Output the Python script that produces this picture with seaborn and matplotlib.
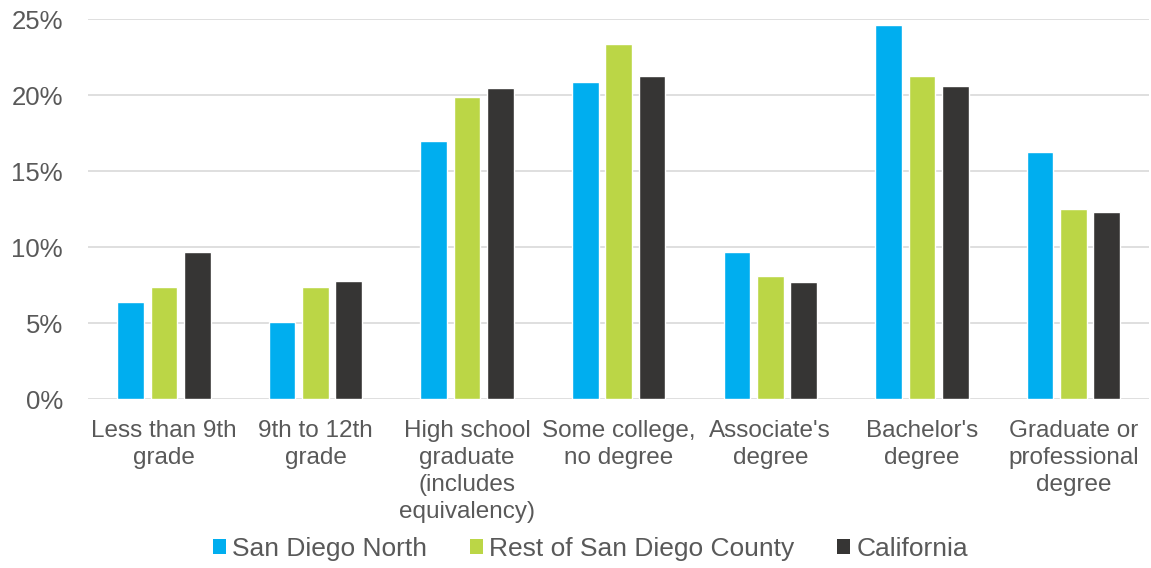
import matplotlib
matplotlib.use("Agg")
import matplotlib.pyplot as plt
from matplotlib.ticker import FuncFormatter
from matplotlib.patches import Patch
import seaborn as sns
import pandas as pd

categories = [
    "Less than 9th\ngrade",
    "9th to 12th\ngrade",
    "High school\ngraduate\n(includes\nequivalency)",
    "Some college,\nno degree",
    "Associate's\ndegree",
    "Bachelor's\ndegree",
    "Graduate or\nprofessional\ndegree",
]
series_names = ["San Diego North", "Rest of San Diego County", "California"]
san_diego_north = [6.4, 5.1, 17.0, 20.9, 9.7, 24.6, 16.3]
rest_of_county = [7.4, 7.4, 19.9, 23.4, 8.1, 21.3, 12.5]
california = [9.7, 7.8, 20.5, 21.3, 7.7, 20.6, 12.3]
colors = ["#00AEEF", "#BBD646", "#363534"]
y_ticks = [0, 5, 10, 15, 20, 25]

rows = []
for name, vals in zip(series_names, [san_diego_north, rest_of_county, california]):
    for cat, v in zip(categories, vals):
        rows.append({"category": cat, "region": name, "share": v})
df = pd.DataFrame(rows)

sns.set_theme(style="white")
plt.rcParams["font.family"] = ["Liberation Sans", "DejaVu Sans"]
text_color = "#595959"

fig = plt.figure(figsize=(11.51, 5.68), dpi=100)
ax = fig.add_axes([0.0765, 0.297, 0.922, 0.669])

sns.barplot(
    data=df, x="category", y="share", hue="region",
    order=categories, hue_order=series_names, palette=colors,
    width=0.66, gap=0.2, saturation=1, errorbar=None, legend=False, ax=ax,
)

ax.set_ylim(0, 25)
ax.set_xlim(-0.5, len(categories) - 0.5)
ax.set_yticks(y_ticks)
ax.yaxis.set_major_formatter(FuncFormatter(lambda v, _: f"{v:.0f}%"))
ax.grid(axis="y", color="#D9D9D9", linewidth=1.2)
ax.set_axisbelow(True)
for s in ax.spines.values():
    s.set_visible(False)
ax.tick_params(axis="both", length=0, labelcolor=text_color)
ax.tick_params(axis="y", pad=18, labelsize=18.5)
ax.tick_params(axis="x", pad=15, labelsize=17.5)
ax.set_xlabel("")
ax.set_ylabel("")
for lbl in ax.get_xticklabels():
    lbl.set_linespacing(1.3)

handles = [Patch(facecolor=c, edgecolor="none") for c in colors]
leg = fig.legend(
    handles, series_names, loc="center", bbox_to_anchor=(0.513, 0.034),
    ncol=3, frameon=False, fontsize=19, handlelength=0.5, handleheight=0.5,
    handletextpad=0.25, columnspacing=1.6, labelcolor=text_color,
)

fig.savefig("out.png", dpi=100)
